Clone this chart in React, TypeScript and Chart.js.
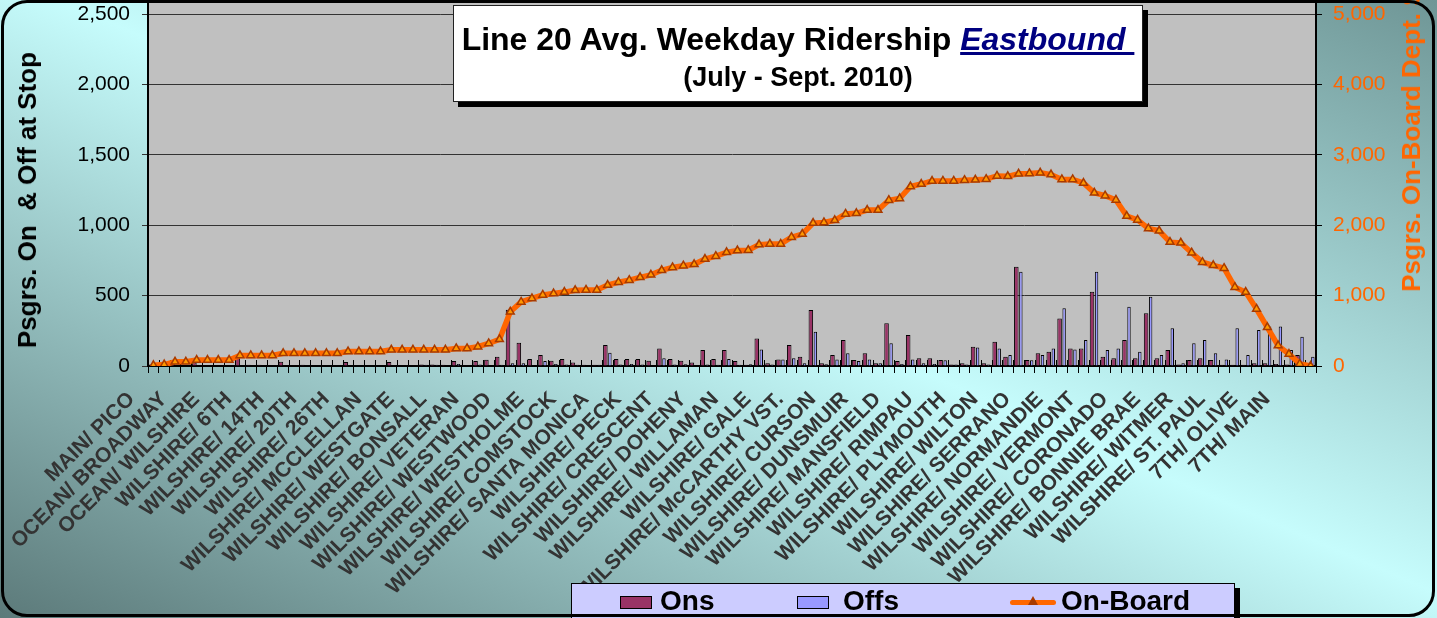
import React, { useEffect, useRef } from 'react';
import { Chart, registerables } from 'chart.js';

Chart.register(...registerables);

const FONT = '"Liberation Sans", Arial, Helvetica, sans-serif';

// Labelled stops (every third stop carries a label on the axis)
const stopLabels = [
  'MAIN/ PICO', 'OCEAN/ BROADWAY', 'OCEAN/ WILSHIRE', 'WILSHIRE/ 6TH', 'WILSHIRE/ 14TH',
  'WILSHIRE/ 20TH', 'WILSHIRE/ 26TH', 'WILSHIRE/ MCCLELLAN', 'WILSHIRE/ WESTGATE',
  'WILSHIRE/ BONSALL', 'WILSHIRE/ VETERAN', 'WILSHIRE/ WESTWOOD', 'WILSHIRE/ WESTHOLME',
  'WILSHIRE/ COMSTOCK', 'WILSHIRE/ SANTA MONICA', 'WILSHIRE/ PECK', 'WILSHIRE/ CRESCENT',
  'WILSHIRE/ DOHENY', 'WILSHIRE/ WILLAMAN', 'WILSHIRE/ GALE', 'WILSHIRE/ McCARTHY VST.',
  'WILSHIRE/ CURSON', 'WILSHIRE/ DUNSMUIR', 'WILSHIRE/ MANSFIELD', 'WILSHIRE/ RIMPAU',
  'WILSHIRE/ PLYMOUTH', 'WILSHIRE/ WILTON', 'WILSHIRE/ SERRANO', 'WILSHIRE/ NORMANDIE',
  'WILSHIRE/ VERMONT', 'WILSHIRE/ CORONADO', 'WILSHIRE/ BONNIE BRAE', 'WILSHIRE/ WITMER',
  'WILSHIRE/ ST. PAUL', '7TH/ OLIVE', '7TH/ MAIN',
];

const ons = [
  10, 10, 40, 5, 25, 3, 3, 3, 65, 8,
  8, 3, 30, 3, 8, 3, 3, 3, 28, 3,
  3, 3, 28, 3, 3, 10, 10, 8, 35, 3,
  35, 45, 66, 400, 166, 50, 78, 37, 50, 24,
  8, 8, 149, 50, 50, 50, 37, 125, 50, 37,
  24, 114, 50, 114, 35, 8, 196, 19, 47, 149,
  66, 398, 19, 78, 185, 43, 90, 19, 303, 36,
  220, 55, 55, 43, 10, 19, 137, 19, 173, 66,
  705, 43, 90, 101, 338, 125, 125, 528, 66, 55,
  185, 55, 374, 55, 114, 10, 43, 55, 43, 8,
  8, 8, 19, 19, 15, 10, 78, 0,
];

const offs = [
  0, 0, 5, 3, 2, 2, 3, 3, 5, 5,
  5, 3, 5, 3, 5, 3, 3, 3, 5, 3,
  3, 3, 5, 3, 3, 8, 8, 5, 15, 3,
  10, 5, 8, 20, 20, 5, 35, 15, 10, 8,
  5, 8, 95, 10, 15, 10, 5, 55, 10, 12,
  5, 10, 8, 50, 8, 12, 118, 10, 47, 55,
  20, 244, 12, 47, 90, 35, 47, 19, 161, 15,
  47, 19, 15, 40, 10, 10, 132, 10, 125, 78,
  670, 40, 78, 125, 410, 118, 185, 670, 114, 125,
  421, 101, 492, 78, 268, 20, 161, 185, 90, 47,
  268, 78, 256, 280, 280, 114, 208, 66,
];

const onBoard = [
  10, 20, 60, 60, 85, 85, 85, 85, 150, 150,
  150, 150, 180, 180, 180, 180, 180, 180, 205, 205,
  205, 205, 230, 230, 230, 230, 230, 230, 250, 250,
  275, 320, 380, 770, 910, 960, 1010, 1030, 1050, 1075,
  1080, 1080, 1150, 1190, 1220, 1260, 1295, 1360, 1400, 1425,
  1445, 1520, 1560, 1615, 1640, 1645, 1725, 1735, 1735, 1830,
  1875, 2030, 2040, 2070, 2160, 2170, 2215, 2215, 2355, 2380,
  2550, 2585, 2627, 2630, 2630, 2640, 2645, 2655, 2700, 2695,
  2730, 2735, 2745, 2720, 2650, 2650, 2600, 2460, 2420, 2360,
  2130, 2075, 1955, 1920, 1760, 1750, 1610, 1475, 1430, 1390,
  1120, 1050, 810, 550, 290, 170, 30, 0,
];

const leftTicks = [0, 500, 1000, 1500, 2000, 2500];
const rightTicks = [0, 1000, 2000, 3000, 4000, 5000];

const categories = ons.map((_, i) => (i % 3 === 0 && stopLabels[i / 3] ? stopLabels[i / 3] : ''));

const plotBg = {
  id: 'plotBg',
  beforeDraw(chart: any) {
    const { ctx, chartArea } = chart;
    ctx.save();
    ctx.fillStyle = '#c0c0c0';
    ctx.fillRect(chartArea.left, chartArea.top, chartArea.right - chartArea.left, chartArea.bottom - chartArea.top);
    ctx.restore();
  },
  beforeDatasetsDraw(chart: any) {
    const { ctx, chartArea } = chart;
    const x = chart.scales.x;
    const n = chart.data.labels.length;
    const w = (x.right - x.left) / n;
    ctx.save();
    ctx.strokeStyle = '#000';
    ctx.lineWidth = 1;
    ctx.beginPath();
    for (let i = 0; i <= n; i++) {
      const px = Math.round(x.left + i * w) + 0.5;
      ctx.moveTo(px, chartArea.bottom - 6);
      ctx.lineTo(px, chartArea.bottom);
    }
    ctx.stroke();
    ctx.restore();
  },
};

const noPad = (s: any) => {
  s.paddingTop = 0;
  s.paddingBottom = 0;
  s.paddingLeft = 0;
  s.paddingRight = 0;
};

export default function App() {
  const ref = useRef<HTMLCanvasElement | null>(null);

  useEffect(() => {
    if (!ref.current) return;
    Chart.defaults.font.family = FONT;
    const chart = new Chart(ref.current, {
      type: 'bar',
      data: {
        labels: categories,
        datasets: [
          {
            type: 'line',
            label: 'On-Board',
            data: onBoard,
            yAxisID: 'y1',
            borderColor: '#ff6600',
            borderWidth: 5.5,
            pointStyle: 'triangle',
            pointRadius: 4.5,
            pointBackgroundColor: '#ff9900',
            pointBorderColor: '#a83a00',
            pointBorderWidth: 1.5,
            tension: 0,
            order: 0,
          } as any,
          {
            type: 'bar',
            label: 'Ons',
            data: ons,
            yAxisID: 'y',
            backgroundColor: '#993366',
            borderColor: '#000000',
            borderWidth: 1,
            categoryPercentage: 0.84,
            barPercentage: 1,
            order: 1,
          },
          {
            type: 'bar',
            label: 'Offs',
            data: offs,
            yAxisID: 'y',
            backgroundColor: '#9999ff',
            borderColor: '#000000',
            borderWidth: 1,
            categoryPercentage: 0.84,
            barPercentage: 0.75,
            order: 1,
          },
        ],
      },
      options: {
        animation: false,
        responsive: true,
        maintainAspectRatio: false,
        devicePixelRatio: 1,
        layout: { autoPadding: false, padding: { top: 0, left: 0, right: 0, bottom: 0 } },
        plugins: {
          legend: { display: false },
          title: { display: false },
          tooltip: { enabled: false },
        },
        scales: {
          x: {
            type: 'category',
            offset: true,
            grid: { offset: true, drawOnChartArea: false, drawTicks: true, tickLength: 7, color: '#000', lineWidth: 1 },
            border: { color: '#000', width: 2 },
            ticks: {
              autoSkip: false,
              maxRotation: 45,
              minRotation: 45,
              padding: 14,
              labelOffset: -22,
              color: '#333333',
              font: { family: FONT, size: 21, weight: 'bold' },
            },
            afterFit: (s: any) => { s.height = 252; noPad(s); },
          },
          y: {
            position: 'left',
            min: 0,
            max: 2600,
            ticks: { stepSize: 500, color: '#000', padding: 12, font: { family: FONT, size: 21 } },
            grid: { color: '#333333', lineWidth: 1, tickLength: 6 },
            border: { color: '#000', width: 2 },
            afterBuildTicks: (s: any) => { s.ticks = leftTicks.map((v) => ({ value: v })); },
            afterFit: (s: any) => { s.width = 148; noPad(s); },
          },
          y1: {
            position: 'right',
            min: 0,
            max: 5200,
            ticks: { stepSize: 1000, color: '#ff6600', padding: 11, font: { family: FONT, size: 21 } },
            grid: { drawOnChartArea: false, color: '#000', tickLength: 6 },
            border: { color: '#000', width: 2 },
            afterBuildTicks: (s: any) => { s.ticks = rightTicks.map((v) => ({ value: v })); },
            afterFit: (s: any) => { s.width = 121; noPad(s); },
          },
        },
      },
      plugins: [plotBg],
    });
    return () => chart.destroy();
  }, []);

  const swatch = (bg: string): React.CSSProperties => ({
    position: 'absolute', top: 12, width: 32, height: 13, background: bg, border: '1px solid #000', boxSizing: 'border-box',
  });

  return (
    <div
      style={{
        position: 'absolute', left: 0, top: 0, width: 1437, height: 618, overflow: 'hidden',
        background: 'linear-gradient(to top right, #5c7a7a 0%, #c6fcfc 52%, #6f9696 100%)',
        fontFamily: FONT,
      }}
    >
      <div style={{ position: 'absolute', left: 0, top: 0, width: 1437, height: 618 }}>
        <canvas ref={ref} />
      </div>

      {/* Left axis title */}
      <div
        style={{
          position: 'absolute', left: 12, bottom: 270, writingMode: 'vertical-rl', transform: 'rotate(180deg)',
          fontSize: 26, fontWeight: 'bold', lineHeight: '30px', whiteSpace: 'pre', color: '#000',
        }}
      >
        {'Psgrs. On  & Off at Stop'}
      </div>

      {/* Right axis title */}
      <div
        style={{
          position: 'absolute', left: 1396, bottom: 326, writingMode: 'vertical-rl', transform: 'rotate(180deg)',
          fontSize: 26, fontWeight: 'bold', lineHeight: '30px', whiteSpace: 'pre', color: '#ff6600',
        }}
      >
        {'Psgrs. On-Board Dept. Stop'}
      </div>

      {/* Title box */}
      <div
        style={{
          position: 'absolute', left: 453, top: 5, width: 690, height: 97, background: '#fff',
          border: '1px solid #222', boxShadow: '5px 5px 0 #000', boxSizing: 'border-box',
          fontWeight: 'bold', textAlign: 'center', color: '#000',
        }}
      >
        <div style={{ fontSize: 32, lineHeight: '36px', marginTop: 15, whiteSpace: 'nowrap' }}>
          {'Line 20 Avg. Weekday Ridership '}
          <span style={{ color: '#000080', fontStyle: 'italic', textDecoration: 'underline' }}>{'Eastbound\u00a0'}</span>
        </div>
        <div style={{ fontSize: 27, lineHeight: '30px', marginTop: 5 }}>(July - Sept. 2010)</div>
      </div>

      {/* Legend */}
      <div
        style={{
          position: 'absolute', left: 571, top: 583, width: 664, height: 50, background: '#ccccff',
          border: '1px solid #000', boxShadow: '5px 5px 0 #000', boxSizing: 'border-box',
          fontWeight: 'bold', fontSize: 28, color: '#000',
        }}
      >
        <div style={{ ...swatch('#993366'), left: 48 }} />
        <div style={{ position: 'absolute', left: 88, top: 1, lineHeight: '32px' }}>Ons</div>
        <div style={{ ...swatch('#9999ff'), left: 225 }} />
        <div style={{ position: 'absolute', left: 271, top: 1, lineHeight: '32px' }}>Offs</div>
        <div style={{ position: 'absolute', left: 438, top: 16, width: 46, height: 5, background: '#ff6600', borderRadius: 3 }} />
        <div
          style={{
            position: 'absolute', left: 456, top: 12, width: 0, height: 0,
            borderLeft: '5px solid transparent', borderRight: '5px solid transparent', borderBottom: '9px solid #a83a00',
          }}
        />
        <div style={{ position: 'absolute', left: 489, top: 1, lineHeight: '32px' }}>On-Board</div>
      </div>

      {/* Outer frame */}
      <div
        style={{
          position: 'absolute', left: 1, top: 0, width: 1434, height: 617, border: '3px solid #000',
          borderRadius: 26, boxSizing: 'border-box', pointerEvents: 'none',
        }}
      />
    </div>
  );
}
